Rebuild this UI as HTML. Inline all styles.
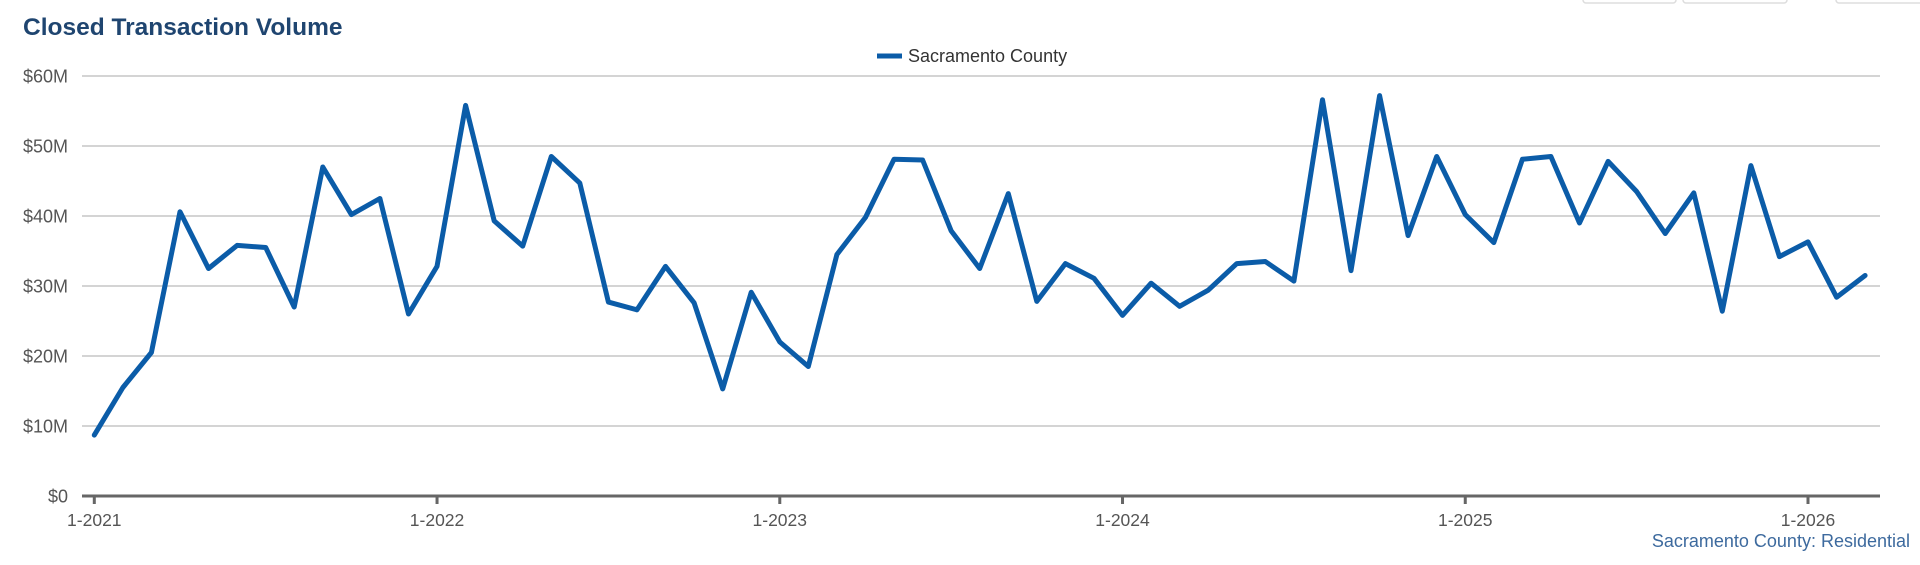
<!DOCTYPE html>
<html><head><meta charset="utf-8"><style>
body{margin:0;background:#fff;width:1920px;height:560px;overflow:hidden;font-family:"Liberation Sans",Arial,sans-serif}
</style></head><body>
<svg width="1920" height="560" xmlns="http://www.w3.org/2000/svg">
<g fill="#fff" stroke="#ddd" stroke-width="1.5">
<rect x="1583" y="-10" width="93" height="13" rx="3"/>
<rect x="1683" y="-10" width="104" height="13" rx="3"/>
<rect x="1836" y="-10" width="90" height="13" rx="3"/>
</g>
<text x="23" y="35" font-size="24.5" font-weight="bold" fill="#1f4570">Closed Transaction Volume</text>
<g>
<line x1="877" y1="56" x2="902" y2="56" stroke="#0b5ca8" stroke-width="5"/>
<text x="908" y="62" font-size="18" fill="#333">Sacramento County</text>
</g>
<g id="grid"></g>
<g id="yt"></g>
<g id="xt"></g>
<path id="ln" fill="none" stroke="#0b5ca8" stroke-width="5" stroke-linejoin="round" stroke-linecap="round"/>
<text x="1910" y="547" text-anchor="end" font-size="18" fill="#3d6a9e">Sacramento County: Residential</text>
</svg>
<script>
const values=[8.7,15.5,20.5,40.6,32.5,35.8,35.5,27,47,40.2,42.5,26,
32.8,55.8,39.3,35.7,48.5,44.7,27.7,26.6,32.8,27.6,15.3,29.1,
22,18.5,34.5,39.8,48.1,48,37.9,32.5,43.2,27.8,33.2,31.1,
25.8,30.4,27.1,29.4,33.2,33.5,30.7,56.6,32.2,57.2,37.2,48.5,
40.2,36.2,48.1,48.5,39,47.8,43.5,37.5,43.3,26.4,47.2,34.2,
36.3,28.4,31.5];
const yTicks=[0,10,20,30,40,50,60];
const xTickLabels=["1-2021","1-2022","1-2023","1-2024","1-2025","1-2026"];
const xTickIdx=[0,12,24,36,48,60];
const NS="http://www.w3.org/2000/svg";
const X0=94.3,DX=(1808-94.3)/60,Y0=496,Y60=76;
const xs=i=>X0+i*DX;
const ys=v=>Y0-(v/60)*(Y0-Y60);
const grid=document.getElementById('grid'),yt=document.getElementById('yt'),xt=document.getElementById('xt');
yTicks.forEach(t=>{
 if(t>0){const l=document.createElementNS(NS,'line');
 l.setAttribute('x1',82);l.setAttribute('x2',1880);l.setAttribute('y1',ys(t));l.setAttribute('y2',ys(t));
 l.setAttribute('stroke','#c6c6c6');l.setAttribute('stroke-width','1.5');
 
 
 grid.appendChild(l);}
 const tx=document.createElementNS(NS,'text');
 tx.setAttribute('x',68);tx.setAttribute('y',ys(t)+6.5);tx.setAttribute('text-anchor','end');
 tx.setAttribute('font-size','18');tx.setAttribute('fill','#555');
 tx.textContent='$'+t+(t?'M':'');
 
 
 yt.appendChild(tx);
});
const ax=document.createElementNS(NS,'line');
ax.setAttribute('x1',82);ax.setAttribute('x2',1880);ax.setAttribute('y1',Y0);ax.setAttribute('y2',Y0);
ax.setAttribute('stroke','#666');ax.setAttribute('stroke-width','3');


xt.appendChild(ax);
xTickIdx.forEach((idx,k)=>{
 const t=document.createElementNS(NS,'line');
 t.setAttribute('x1',xs(idx));t.setAttribute('x2',xs(idx));t.setAttribute('y1',Y0);t.setAttribute('y2',Y0+8);
 t.setAttribute('stroke','#666');t.setAttribute('stroke-width','3');
 
 
 xt.appendChild(t);
 const tx=document.createElementNS(NS,'text');
 tx.setAttribute('x',xs(idx));tx.setAttribute('y',526);tx.setAttribute('text-anchor','middle');
 tx.setAttribute('font-size','17.5');tx.setAttribute('fill','#555');
 tx.textContent=xTickLabels[k];
 
 
 xt.appendChild(tx);
});
document.getElementById('ln').setAttribute('d',values.map((v,i)=>(i?'L':'M')+xs(i).toFixed(1)+','+ys(v).toFixed(1)).join(''));
</script>
</body></html>
